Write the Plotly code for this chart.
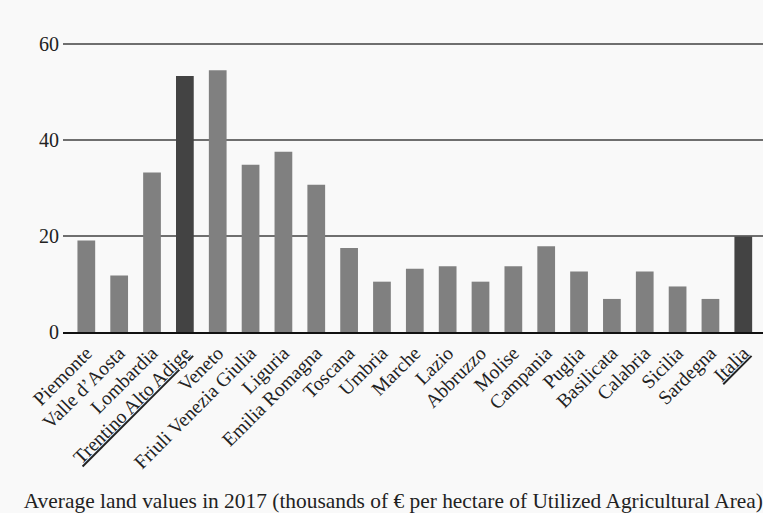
import plotly.graph_objects as go

regions = ["Piemonte", "Valle d’Aosta", "Lombardia", "<u>Trentino Alto Adige</u>", "Veneto",
           "Friuli Venezia Giulia", "Liguria", "Emilia Romagna", "Toscana", "Umbria",
           "Marche", "Lazio", "Abbruzzo", "Molise", "Campania", "Puglia", "Basilicata",
           "Calabria", "Sicilia", "Sardegna", "<u>Italia</u>"]
values = [19.1, 11.8, 33.3, 53.4, 54.6, 34.9, 37.6, 30.7, 17.5, 10.5,
          13.2, 13.7, 10.5, 13.7, 17.9, 12.6, 6.9, 12.6, 9.5, 6.9, 19.9]
highlight = ["<u>Trentino Alto Adige</u>", "<u>Italia</u>"]
y_ticks = [0, 20, 40, 60]
title_text = "Average land values in 2017 (thousands of € per hectare of Utilized Agricultural Area)"

colors = ["#434343" if r in highlight else "#808080" for r in regions]

FONT = "Liberation Serif"

fig = go.Figure(go.Bar(
    x=regions, y=values,
    marker=dict(color=colors, line=dict(width=0)),
))

fig.update_layout(
    width=763, height=513,
    margin=dict(l=63, r=0, t=42, b=181),
    paper_bgcolor="#f9f9f9", plot_bgcolor="#f9f9f9",
    bargap=0.46,
    showlegend=False,
    font=dict(family=FONT, size=19, color="#222222"),
    title=dict(text=title_text, xref="container", yref="container",
               x=0.5155, xanchor="center", y=0.025, yanchor="middle",
               font=dict(family=FONT, size=21.4, color="#222222")),
)
fig.update_xaxes(
    range=[-0.71, 20.6], tickangle=-45, showgrid=False,
    showline=True, linecolor="#111111", linewidth=2, layer="above traces",
    ticks="", tickfont=dict(family=FONT, size=19.5, color="#222222"),
)
fig.update_yaxes(
    range=[0, 60.5], tickvals=y_ticks, showgrid=True, gridcolor="#6f6f6f", gridwidth=1.5,
    zeroline=False, ticks="", ticklabelstandoff=3,
    tickfont=dict(family=FONT, size=20, color="#222222"),
)

fig.write_html("out.html", config={"displayModeBar": False},
               post_script="document.body.style.margin='0';document.body.style.overflow='hidden';")
